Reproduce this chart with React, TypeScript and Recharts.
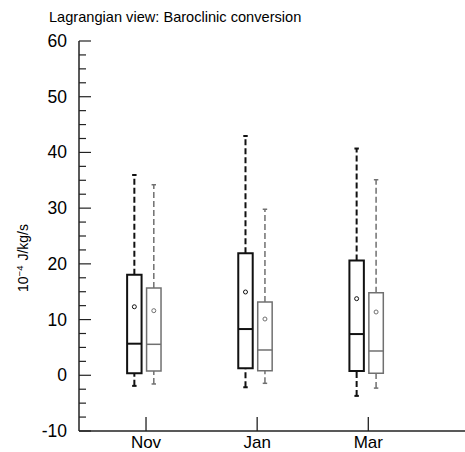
import React from 'react';
import { ComposedChart, XAxis, YAxis, ReferenceArea, ReferenceLine, ReferenceDot, Label } from 'recharts';

const months = ['Nov', 'Jan', 'Mar'];
const positions = [1, 2, 3];

// Series A (black)
const aLow = [-1.9, -2.15, -3.7];
const aQ1 = [0.36, 1.25, 0.77];
const aMedian = [5.67, 8.3, 7.4];
const aQ3 = [18.06, 21.9, 20.6];
const aHigh = [35.95, 42.95, 40.7];
const aMean = [12.3, 14.95, 13.75];

// Series B (grey)
const bLow = [-1.56, -1.44, -2.3];
const bQ1 = [0.77, 0.83, 0.36];
const bMedian = [5.56, 4.54, 4.36];
const bQ3 = [15.67, 13.16, 14.8];
const bHigh = [34.2, 29.8, 35.1];
const bMean = [11.6, 10.1, 11.36];

const yMajorTicks = [-10, 0, 10, 20, 30, 40, 50, 60];
const yAllTicks: number[] = [];
for (let i = 0; i <= 28; i++) yAllTicks.push(-10 + i * 2.5);

const FONT = '"Liberation Sans", Arial, Helvetica, sans-serif';

const series = [
  { low: aLow, q1: aQ1, med: aMedian, q3: aQ3, high: aHigh, mean: aMean, offset: -0.105, color: '#111111', width: 2, dash: '6 3' },
  { low: bLow, q1: bQ1, med: bMedian, q3: bQ3, high: bHigh, mean: bMean, offset: 0.07, color: '#707070', width: 1.5, dash: '6 3' },
];
const HALF = 0.065;
const CAP = 0.02;

const XTick = (props: any) => {
  const { x, y, payload } = props;
  const idx = positions.indexOf(payload.value);
  return (
    <g>
      <line x1={x} x2={x} y1={y} y2={y - 14} stroke="#222" strokeWidth={1.3} />
      <text x={x} y={y + 17} textAnchor="middle" fontSize={17} fontFamily={FONT} fill="#000">
        {idx >= 0 ? months[idx] : ''}
      </text>
    </g>
  );
};

const YTick = (props: any) => {
  const { x, y, payload } = props;
  const major = yMajorTicks.includes(payload.value);
  return (
    <g>
      <line x1={x} x2={x + (major ? 12 : 7)} y1={y} y2={y} stroke="#222" strokeWidth={1.2} />
      {major && (
        <text x={x - 12} y={y + 6} textAnchor="end" fontSize={17.5} fontFamily={FONT} fill="#000">
          {payload.value}
        </text>
      )}
    </g>
  );
};

export default function App() {
  const elements: React.ReactNode[] = [];
  series.forEach((s, si) => {
    positions.forEach((p, i) => {
      const cx = p + s.offset;
      elements.push(
        <ReferenceLine key={`wu${si}${i}`} segment={[{ x: cx, y: s.q3[i] }, { x: cx, y: s.high[i] }]} stroke={s.color} strokeWidth={s.width} strokeDasharray={s.dash} />,
        <ReferenceLine key={`wl${si}${i}`} segment={[{ x: cx, y: s.low[i] }, { x: cx, y: s.q1[i] }]} stroke={s.color} strokeWidth={s.width} strokeDasharray={s.dash} />,
        <ReferenceLine key={`cu${si}${i}`} segment={[{ x: cx - CAP, y: s.high[i] }, { x: cx + CAP, y: s.high[i] }]} stroke={s.color} strokeWidth={s.width} />,
        <ReferenceLine key={`cl${si}${i}`} segment={[{ x: cx - CAP, y: s.low[i] }, { x: cx + CAP, y: s.low[i] }]} stroke={s.color} strokeWidth={s.width} />,
        <ReferenceArea key={`b${si}${i}`} x1={cx - HALF} x2={cx + HALF} y1={s.q1[i]} y2={s.q3[i]} fill="#ffffff" fillOpacity={1} stroke={s.color} strokeWidth={s.width} />,
        <ReferenceLine key={`m${si}${i}`} segment={[{ x: cx - HALF, y: s.med[i] }, { x: cx + HALF, y: s.med[i] }]} stroke={s.color} strokeWidth={s.width} />,
        <ReferenceDot key={`d${si}${i}`} x={cx} y={s.mean[i]} r={2} fill="#ffffff" stroke={s.color} strokeWidth={1} />
      );
    });
  });

  return (
    <div style={{ position: 'absolute', left: 0, top: 0, width: 465, height: 452 }}>
      <svg width={465} height={30} style={{ position: 'absolute', left: 0, top: 0 }}>
        <text x={49} y={21.5} fontSize={14.6} fontFamily={FONT} fill="#000">
          Lagrangian view: Baroclinic conversion
        </text>
      </svg>
      <ComposedChart width={465} height={452} margin={{ top: 41, right: 0, bottom: 0, left: 0 }} data={[]}>
        <XAxis
          type="number"
          dataKey="x"
          domain={[0.397, 3.87]}
          ticks={positions}
          allowDataOverflow
          tick={<XTick />}
          tickLine={false}
          tickSize={0}
          tickMargin={0}
          axisLine={{ stroke: '#222', strokeWidth: 1.5 }}
          height={21}
        />
        <YAxis
          type="number"
          domain={[-10, 60]}
          ticks={yAllTicks}
          interval={0}
          allowDataOverflow
          tick={<YTick />}
          tickLine={false}
          tickSize={0}
          tickMargin={0}
          axisLine={{ stroke: '#222', strokeWidth: 1.5 }}
          width={79}
        >
          <Label
            content={() => (
              <text transform="translate(28, 258) rotate(-90)" textAnchor="middle" fontSize={14} fontFamily={FONT} fill="#000">
                <tspan>10</tspan>
                <tspan dy={-5} fontSize={9.5}>−4</tspan>
                <tspan dy={5} dx={5}>J/kg/s</tspan>
              </text>
            )}
          />
        </YAxis>
        {elements}
      </ComposedChart>
    </div>
  );
}
